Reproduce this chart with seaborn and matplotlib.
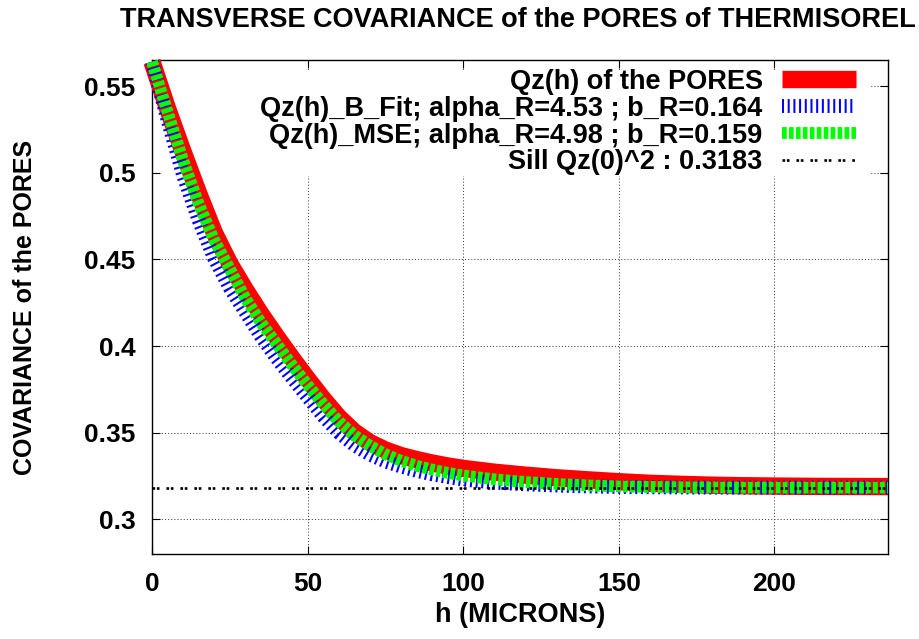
import matplotlib
matplotlib.use("Agg")
import matplotlib.pyplot as plt
from matplotlib.patches import Rectangle
import seaborn as sns

# Lag distances (microns)
h = [0, 5, 10, 15, 20, 25, 30, 35, 40, 45, 50, 55, 60, 65, 70, 75, 80, 85,
     90, 95, 100, 110, 120, 130, 140, 150, 160, 170, 180, 190, 200, 215, 236.5]

# Measured transverse covariance of the pores
qz_pores = [0.564, 0.537, 0.512, 0.488, 0.4655, 0.4475, 0.4325, 0.4185,
            0.4055, 0.393, 0.381, 0.3695, 0.359, 0.3505, 0.3443, 0.3400,
            0.3368, 0.3345, 0.3325, 0.3308, 0.3294, 0.3272, 0.3255, 0.3240,
            0.3228, 0.3217, 0.3208, 0.3202, 0.3197, 0.3194, 0.3192, 0.3190,
            0.3189]

# Fitted model (B fit)
qz_bfit = [0.564, 0.5305, 0.4985, 0.4725, 0.4505, 0.4335, 0.4195, 0.4055,
           0.3930, 0.3815, 0.3705, 0.3595, 0.3500, 0.3428, 0.3374, 0.3334,
           0.3305, 0.3280, 0.3260, 0.3244, 0.3230, 0.3212, 0.3202, 0.3195,
           0.3190, 0.3187, 0.3185, 0.3184, 0.3183, 0.3183, 0.3183, 0.3183,
           0.3183]

# Fitted model (MSE)
qz_mse = [0.564, 0.535, 0.507, 0.482, 0.461, 0.4445, 0.4275, 0.4135, 0.4013,
          0.389, 0.3775, 0.3665, 0.3565, 0.3485, 0.3425, 0.3375, 0.3338,
          0.3309, 0.3287, 0.3268, 0.3253, 0.3231, 0.3215, 0.3204, 0.3196,
          0.3190, 0.3187, 0.3185, 0.3184, 0.3183, 0.3183, 0.3183, 0.3183]

SILL = 0.3183
h_span = [0, 236.5]

labels = [
    "Qz(h) of the PORES",
    "Qz(h)_B_Fit; alpha_R=4.53 ; b_R=0.164",
    "Qz(h)_MSE; alpha_R=4.98 ; b_R=0.159",
    f"Sill Qz(0)^2 : {SILL}",
]
x_ticks = [0, 50, 100, 150, 200]
y_ticks = [0.3, 0.35, 0.4, 0.45, 0.5, 0.55]
y_ticklabels = ["0.3", "0.35", "0.4", "0.45", "0.5", "0.55"]

sns.set_style("ticks")
plt.rcParams.update({
    "font.family": ["Liberation Sans", "DejaVu Sans"],
    "font.weight": "bold",
    "axes.labelweight": "bold",
    "axes.titleweight": "bold",
    "text.color": "black",
    "axes.labelcolor": "black",
    "xtick.color": "black",
    "ytick.color": "black",
    "lines.scale_dashes": False,
    "axes.linewidth": 1.0,
    "axes.edgecolor": "black",
})

fig = plt.figure(figsize=(9.19, 6.39), dpi=100)
ax = fig.add_axes([0.1654, 0.1330, 0.8009, 0.7731])
ax.set_axisbelow(True)

# Measured curve: thick red band
sns.lineplot(x=h, y=qz_pores, ax=ax, color="#ff0000", linewidth=12.5,
             clip_on=False, zorder=3)
ax.lines[-1].set_solid_capstyle("butt")
ax.lines[-1].set_solid_joinstyle("round")

# B fit: blue striped line
sns.lineplot(x=h, y=qz_bfit, ax=ax, color="#0000ff", linewidth=10,
             clip_on=False, zorder=4)
ax.lines[-1].set_dashes([1.45, 2.65])
ax.lines[-1].set_dash_capstyle("butt")

# MSE fit: green striped line
sns.lineplot(x=h, y=qz_mse, ax=ax, color="#00ff00", linewidth=8.5,
             clip_on=False, zorder=5)
ax.lines[-1].set_dashes([3.4, 1.6])
ax.lines[-1].set_dash_capstyle("butt")

# Sill
sns.lineplot(x=h_span, y=[SILL, SILL], ax=ax, color="black", linewidth=1.9,
             zorder=6)
ax.lines[-1].set_dashes([1.9, 1.25, 1.9, 5.0])
ax.lines[-1].set_dash_capstyle("butt")

ax.set_xlim(0, 236.5)
ax.set_ylim(0.28, 0.565)
ax.set_xticks(x_ticks)
ax.set_xticklabels([str(t) for t in x_ticks])
ax.set_yticks(y_ticks)
ax.set_yticklabels(y_ticklabels)

ax.tick_params(direction="in", length=5.8, width=0.8, top=True, right=True,
               labelsize=19, colors="black")
ax.tick_params(axis="y", pad=12)
ax.tick_params(axis="x", pad=13)

for s in ax.spines.values():
    s.set_visible(True)
    s.set_linewidth(1.0)
    s.set_color("black")

ax.grid(True, color="#444444", linewidth=0.75, linestyle=(0, (0.75, 1.5)))

# Opaque key area
ax.add_patch(Rectangle((0.012, 0.765), 0.964, 0.215, transform=ax.transAxes,
                       facecolor="white", edgecolor="none", zorder=1))

handles = ax.get_lines()[:4]
leg = ax.legend(handles, labels, loc="upper right",
                bbox_to_anchor=(0.9565, 0.982), frameon=False,
                markerfirst=False, handlelength=2.75, handletextpad=0.7,
                labelspacing=0.03, borderpad=0, borderaxespad=0,
                prop={"weight": "bold", "size": 19.5})
leg.set_zorder(10)
for t in leg.get_texts():
    t.set_color("black")

ax.set_xlabel("h (MICRONS)", fontsize=19.5, labelpad=4)
ax.set_ylabel("COVARIANCE of the PORES", fontsize=18, labelpad=34)
ax.set_title("TRANSVERSE COVARIANCE of the PORES of THERMISOREL",
             fontsize=19.5, pad=24, x=0.497, color="black")

fig.savefig("out.png", dpi=100)
